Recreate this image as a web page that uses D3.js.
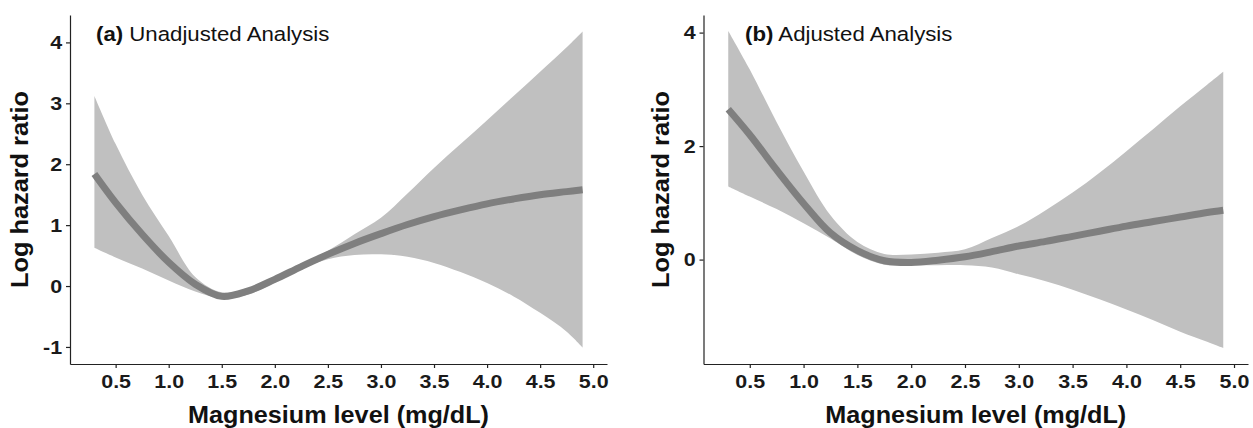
<!DOCTYPE html>
<html>
<head>
<meta charset="utf-8">
<script src="https://cdn.jsdelivr.net/npm/d3@7"></script>
<style>
  body { margin: 0; background: #fff; }
  svg { display: block; font-family: "Liberation Sans", Arial, sans-serif; }
  .axis path, .axis line { stroke: #222; stroke-width: 1.2; }
  .axis text { font-family: "Liberation Sans", Arial, sans-serif; font-size: 19px; font-weight: bold; fill: #1a1a1a; }
</style>
</head>
<body>
<script>
// Magnesium level grid (mg/dL)
var magnesium = [0.3, 0.5, 0.75, 1.0, 1.25, 1.5, 1.75, 2.0, 2.25, 2.5, 2.75,
                 3.0, 3.25, 3.5, 3.75, 4.0, 4.25, 4.5, 4.75, 4.9];

// (a) Unadjusted analysis
var unadjFit   = [1.84, 1.37, 0.85, 0.39, 0.03, -0.17, -0.08, 0.11, 0.32, 0.52, 0.70,
                  0.86, 1.01, 1.14, 1.25, 1.35, 1.43, 1.50, 1.55, 1.58];
var unadjUpper = [3.12, 2.33, 1.50, 0.82, 0.15, -0.10, -0.04, 0.15, 0.36, 0.58, 0.85,
                  1.12, 1.52, 1.94, 2.33, 2.72, 3.12, 3.52, 3.92, 4.18];
var unadjLower = [0.63, 0.47, 0.29, 0.09, -0.09, -0.20, -0.14, 0.06, 0.28, 0.44, 0.51,
                  0.52, 0.48, 0.38, 0.23, 0.05, -0.17, -0.44, -0.75, -1.01];

// (b) Adjusted analysis
var adjFit   = [2.65, 2.20, 1.58, 0.99, 0.47, 0.16, -0.02, -0.05, -0.01, 0.05, 0.14,
                0.24, 0.32, 0.41, 0.50, 0.59, 0.67, 0.75, 0.83, 0.87];
var adjUpper = [4.03, 3.35, 2.42, 1.55, 0.78, 0.31, 0.10, 0.09, 0.12, 0.18, 0.38,
                0.59, 0.87, 1.18, 1.53, 1.91, 2.30, 2.70, 3.08, 3.31];
var adjLower = [1.29, 1.11, 0.89, 0.64, 0.37, 0.08, -0.09, -0.10, -0.10, -0.10, -0.14,
                -0.26, -0.38, -0.53, -0.70, -0.88, -1.07, -1.27, -1.45, -1.56];

// ticks
var xTicks = [0.5, 1.0, 1.5, 2.0, 2.5, 3.0, 3.5, 4.0, 4.5, 5.0];
var unadjYTicks = [-1, 0, 1, 2, 3, 4];
var adjYTicks = [0, 2, 4];

var width = 1253,
    height = 428,
    plotTop = 15,
    plotBottom = 364,
    stretch = 1.13;

var svg = d3.select('body').append('svg')
    .attr('width', width)
    .attr('height', height);

var panels = [
    { left: 70, right: 607, yDomain: [-1.28, 4.45], yTicks: unadjYTicks,
      fit: unadjFit, upper: unadjUpper, lower: unadjLower,
      tag: '(a)', title: 'Unadjusted Analysis', titleX: 96, yTitleX: 28 },
    { left: 703.5, right: 1248, yDomain: [-1.84, 4.31], yTicks: adjYTicks,
      fit: adjFit, upper: adjUpper, lower: adjLower,
      tag: '(b)', title: 'Adjusted Analysis', titleX: 745, yTitleX: 669 }
];

// plain hyphen for negatives, like the original figure
function intLabel(d) {
    return d < 0 ? '-' + Math.abs(d) : String(d);
}

panels.forEach(function (p) {
    var x = d3.scaleLinear().domain([0.07, 5.13]).range([p.left, p.right]);
    var y = d3.scaleLinear().domain(p.yDomain).range([plotBottom, plotTop]);

    var rows = magnesium.map(function (m, i) {
        return { m: m, fit: p.fit[i], hi: p.upper[i], lo: p.lower[i] };
    });

    // confidence band
    var band = d3.area()
        .x(function (d) { return x(d.m); })
        .y0(function (d) { return y(d.lo); })
        .y1(function (d) { return y(d.hi); })
        .curve(d3.curveCatmullRom.alpha(0.5));

    svg.append('path')
        .datum(rows)
        .attr('d', band)
        .style('fill', '#c0c0c0');

    // fitted spline
    var line = d3.line()
        .x(function (d) { return x(d.m); })
        .y(function (d) { return y(d.fit); })
        .curve(d3.curveCatmullRom.alpha(0.5));

    svg.append('path')
        .datum(rows)
        .attr('d', line)
        .style('fill', 'none')
        .style('stroke', '#7f7f7f')
        .style('stroke-width', 7);

    // axes
    var gx = svg.append('g')
        .attr('class', 'axis')
        .attr('transform', 'translate(0,' + plotBottom + ')')
        .call(d3.axisBottom(x).tickValues(xTicks).tickFormat(d3.format('.1f'))
            .tickSize(4).tickSizeOuter(0).tickPadding(7));
    gx.selectAll('.tick text').attr('transform', 'scale(' + stretch + ',1)');

    var gy = svg.append('g')
        .attr('class', 'axis')
        .attr('transform', 'translate(' + p.left + ',0)')
        .call(d3.axisLeft(y).tickValues(p.yTicks).tickFormat(intLabel)
            .tickSize(4).tickSizeOuter(0).tickPadding(3));
    gy.selectAll('.tick text').attr('transform', 'scale(' + stretch + ',1)');

    // axis titles
    svg.append('text')
        .attr('x', (p.left + p.right) / 2)
        .attr('y', 423)
        .attr('text-anchor', 'middle')
        .attr('textLength', 301)
        .attr('lengthAdjust', 'spacingAndGlyphs')
        .style('font-size', '23px')
        .style('font-weight', 'bold')
        .style('fill', '#111')
        .text('Magnesium level (mg/dL)');

    svg.append('text')
        .attr('transform', 'translate(' + p.yTitleX + ',' + ((plotTop + plotBottom) / 2) + ') rotate(-90)')
        .attr('text-anchor', 'middle')
        .attr('textLength', 197)
        .attr('lengthAdjust', 'spacingAndGlyphs')
        .style('font-size', '23px')
        .style('font-weight', 'bold')
        .style('fill', '#111')
        .text('Log hazard ratio');

    // panel label
    var label = svg.append('g')
        .attr('transform', 'translate(' + p.titleX + ',40.7) scale(1.14,1)')
        .append('text')
        .style('font-size', '19.5px')
        .style('fill', '#111');
    label.append('tspan').style('font-weight', 'bold').text(p.tag);
    label.append('tspan').text(' ' + p.title);
});
</script>
</body>
</html>
